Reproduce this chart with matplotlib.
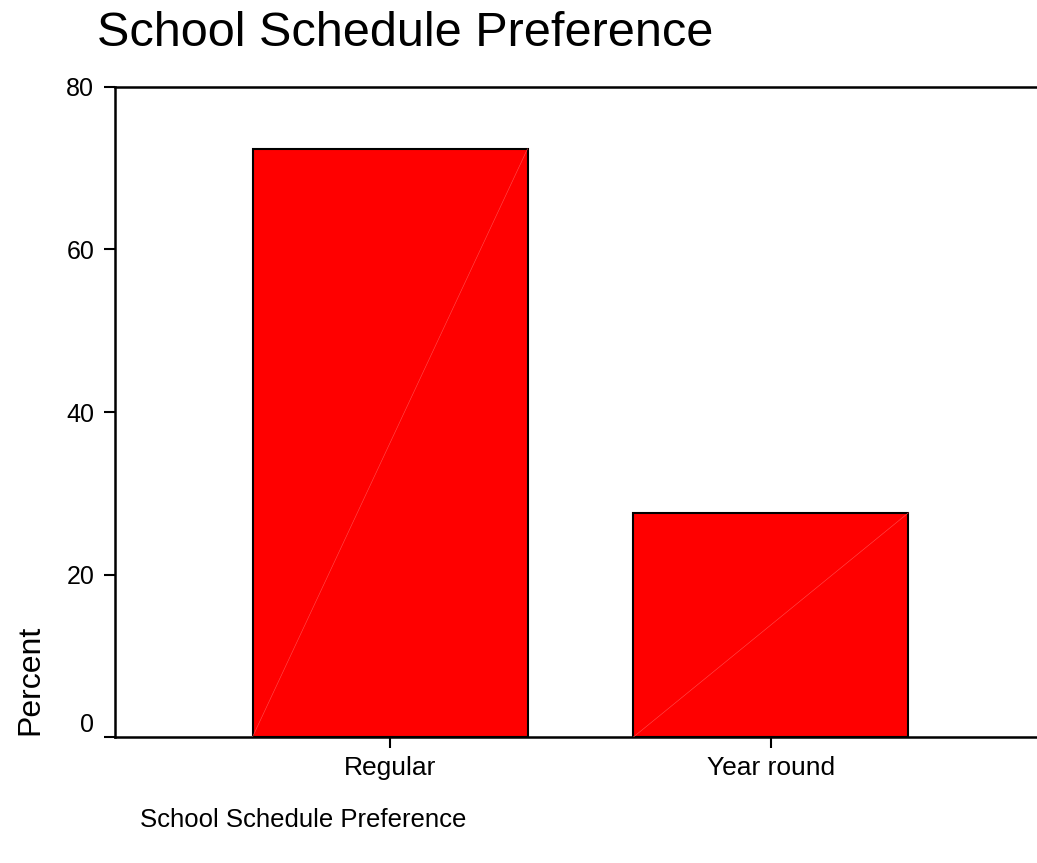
import matplotlib
matplotlib.use("Agg")
import matplotlib.pyplot as plt

categories = ["Regular", "Year round"]
percent = [72.4, 27.6]
yticks = [0, 20, 40, 60, 80]

plt.rcParams['font.family'] = ['Liberation Sans', 'DejaVu Sans']

W, H = 1037, 863
fig = plt.figure(figsize=(W / 100, H / 100), dpi=100)
# axes runs a bit past the right edge like the original export
ax = fig.add_axes([115 / W, 126 / H, (1046 - 115) / W, 650 / H])

pos = list(range(len(categories)))
bw = 0.722
ax.bar(pos, percent, width=bw, color='#ff0000', edgecolor='black', linewidth=1.5)
# faint diagonal seam inside each bar
for x, v in zip(pos, percent):
    ax.plot([x - bw / 2, x + bw / 2], [0, v], color='#ff5050', lw=0.4, zorder=3)

ax.set_xlim(-0.722, len(categories) - 1 + 0.722)
ax.set_ylim(0, 80)
ax.set_yticks(yticks)
ax.set_xticks(pos)
ax.set_xticklabels(categories, fontsize=19)
ax.tick_params(axis='y', labelsize=18, length=8, width=1.5, pad=7)
ax.tick_params(axis='x', length=8, width=1.5, pad=6)
ax.get_yticklabels()[0].set_va('bottom')

for s in ['left', 'bottom', 'top']:
    ax.spines[s].set_linewidth(1.8)
ax.spines['right'].set_visible(False)

fig.text(97 / W, 1 - 33 / H, "School Schedule Preference", fontsize=35, va='center', ha='left')
fig.text(140 / W, 1 - 820 / H, "School Schedule Preference", fontsize=18.5, va='center', ha='left')
fig.text(30 / W, 1 - 680 / H, "Percent", fontsize=23, rotation=90, va='center', ha='center')

fig.savefig("out.png", dpi=100)
